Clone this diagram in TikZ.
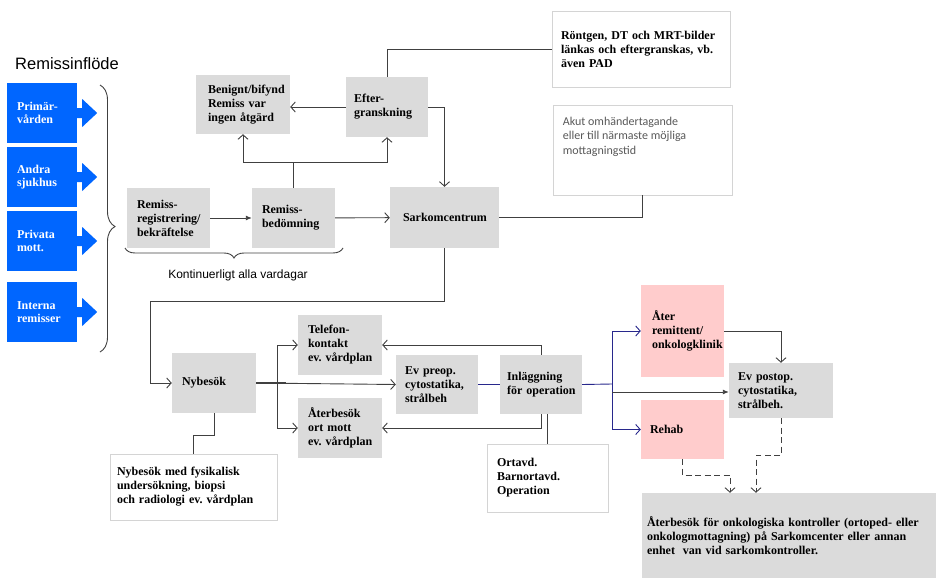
\documentclass[tikz,border=0pt]{standalone}
\usepackage{fontspec}
\setmainfont{Liberation Serif}
\newfontfamily\arialfont{Liberation Sans}
\newfontfamily\calfont{Carlito}
\usetikzlibrary{arrows.meta, decorations.pathreplacing}
\definecolor{boxgray}{RGB}{219,219,219}
\definecolor{boxpink}{RGB}{255,204,204}
\definecolor{boxblue}{RGB}{0,102,255}
\definecolor{linenavy}{RGB}{40,40,140}
\definecolor{edgegray}{RGB}{212,212,212}
\definecolor{notegray}{RGB}{89,89,89}
\frenchspacing
\hyphenpenalty=10000

\begin{document}
\begin{tikzpicture}[x=1pt, y=-1pt,
    box/.style n args={3}{rectangle, inner xsep=#3, inner ysep=0pt,
      text width=#1-2*#3, minimum height=#2, align=left,
      font=\bfseries\fontsize{12}{14}\selectfont},
    graybox/.style={fill=boxgray},
    pinkbox/.style={fill=boxpink},
    whitebox/.style={draw=edgegray, line width=0.8pt, fill=white},
    bluebox/.style={box={70}{60}{10}, fill=boxblue, text=white,
      font=\bfseries\fontsize{12}{13.5}\selectfont},
    sanslabel/.style={inner sep=0pt, font=\arialfont\fontsize{12}{14}\selectfont},
    line/.style={draw=black!75, line width=0.9pt},
    arr/.style={line, -{Straight Barb[length=4.5pt, width=10pt]}},
    farr/.style={line, -{Latex[length=6pt, width=5pt]}},
    navy/.style={draw=linenavy},
    dasharr/.style={arr, dash pattern=on 6pt off 3.5pt},
    brc/.style={line, decorate, decoration={brace, amplitude=#1}},
  ]
    \useasboundingbox (0,0) rectangle (936,578);

    % Referral sources
    \node[sanslabel, font=\arialfont\fontsize{16.5}{19}\selectfont] (title) at (67,64) {Remissinflöde};
    \foreach \nm/\yy/\txt in {prim/113/{Primär-\\vården}, andra/177/{Andra\\sjukhus},
                              priv/241/{Privata\\mott.}, intern/312/{Interna\\remisser}} {
        \node[bluebox] (\nm) at (42,\yy) {\txt};
        \fill[boxblue] (\nm.east) ++(0,-5) -- ++(5,0) -- ++(0,-9) -- ++(15,14)
            -- ++(-15,14) -- ++(0,-9) -- ++(-5,0) -- cycle;
    }
    \draw[brc=15pt, decoration={aspect=0.53}] (100,85) -- (100,352);

    % Referral handling
    \node[box={83}{60}{10}, graybox] (reg) at (168.5,218) {Remiss-\\registrering/\\bekräftelse};
    \node[box={83}{60}{10}, graybox] (bed) at (293.5,218) {Remiss-\\bedömning};
    \node[box={94}{59}{12}, graybox] (ben) at (243,104.5) {Benignt/bifynd\\Remiss~var\\ingen~åtgärd};
    \node[box={82}{60}{8}, graybox] (eft) at (387,107) {Efter-\\granskning};
    \node[box={109}{61}{13}, graybox] (sark) at (444.5,217.5) {Sarkomcentrum};
    \node[box={178}{76}{9}, whitebox] (ront) at (641,49) {Röntgen, DT och MRT-bilder\\länkas och eftergranskas, vb.\\även PAD};
    \node[box={179}{90}{9}, whitebox] (akut) at (642.5,150) {};
    \node[sanslabel, anchor=north west, align=left, text=notegray,
          font=\calfont\fontsize{12}{14.5}\selectfont] (akuttxt)
        at ([shift={(10,12)}]akut.north west) {Akut omhändertagande\\eller till närmaste möjliga\\mottagningstid};

    \draw[brc=10pt] (343,248) -- (125,248);
    \node[sanslabel] (kont) at (238,275) {Kontinuerligt alla vardagar};

    % Connectors, upper part
    \coordinate (bsplit) at (293.5,162);
    \draw[farr] (reg) -- (bed);
    \draw[line] (bed.north) -- (bsplit);
    \draw[arr] (bsplit) -| (ben.south);
    \draw[arr] (bsplit) -| (eft.south);
    \draw[arr] (eft.west) -- (eft.west -| ben.east);
    \draw[arr] (eft.east) -| (sark.north);
    \draw[line] (eft.north) |- (ront.west);
    \draw[line] (akut.south) |- (sark.east);
    \draw[arr] (bed) -- (sark);

    % Visits and treatment
    \node[box={84}{60}{10}, graybox] (nyb) at (214,383) {Nybesök};
    \node[box={84}{60}{10}, graybox] (tel) at (340,345) {Telefon-\\kontakt\\ev.~vårdplan};
    \node[box={84}{60}{10}, graybox] (ater) at (340,428) {Återbesök\\ort~mott\\ev.~vårdplan};
    \node[box={82}{59}{9}, graybox] (pre) at (437,384.5) {Ev~preop.\\cytostatika,\\strålbeh};
    \node[box={82}{59}{7}, graybox] (inl) at (541,384.5) {Inläggning\\för~operation};
    \node[box={121}{68}{10}, whitebox] (ort) at (547.5,478) {Ortavd.\\Barnortavd.\\Operation};
    \node[box={167}{66}{7}, whitebox] (nybtxt) at (193.5,487) {Nybesök med fysikalisk\\undersökning, biopsi\\och radiologi ev. vårdplan};
    \node[box={83}{92}{11}, pinkbox] (rem) at (682.5,331) {Åter\\remittent/\\onkologklinik};
    \node[box={83}{59}{9}, pinkbox] (reh) at (682.5,429.5) {Rehab};
    \node[box={104}{55}{9}, graybox] (post) at (781,390.5) {Ev~postop.\\cytostatika,\\strålbeh.};
    \node[box={294}{85}{5}, graybox] (ctrl) at (789,535.5) {Återbesök för onkologiska kontroller (ortoped- eller\\onkologmottagning) på Sarkomcenter eller annan\\enhet~ van vid sarkomkontroller.};

    % Connectors, lower part
    \coordinate (nsplit) at (277,384);
    \coordinate (isplit) at (612,384);
    \coordinate (osplit) at (612,392);
    \draw[arr] (sark.south) |- ++(-294,53) |- (nyb.west);
    \draw[line, line width=1.8pt] (nyb.east) -- ++(30,0);
    \draw[arr] (nyb.east) -- (pre.west);
    \draw[arr] (nsplit) |- (tel.west);
    \draw[arr] (nsplit) |- (ater.west);
    \draw[line] (nyb.south) -- ++(0,22) -| (nybtxt.north);
    \draw[line, navy] (pre.east) -- (inl.west);
    \draw[arr] (inl.north) |- (tel.east);
    \draw[arr] (inl.south) |- (ater.east);
    \draw[line] (ort.north |- inl.south) -- (ort.north);
    \draw[line, navy] (inl.east) -- (isplit);
    \draw[arr, navy] (isplit) |- (rem.west);
    \draw[arr, navy] (isplit) |- (reh.west);
    \draw[farr] (osplit) -- (osplit -| post.west);
    \draw[arr] (rem.east) -| (post.north);
    \draw[dasharr] (post.south) -- ++(0,37) -| ([xshift=-33]ctrl.north);
    \draw[dasharr] (reh.south) -- ++(0,16) -| ([xshift=-59]ctrl.north);
\end{tikzpicture}
\end{document}
